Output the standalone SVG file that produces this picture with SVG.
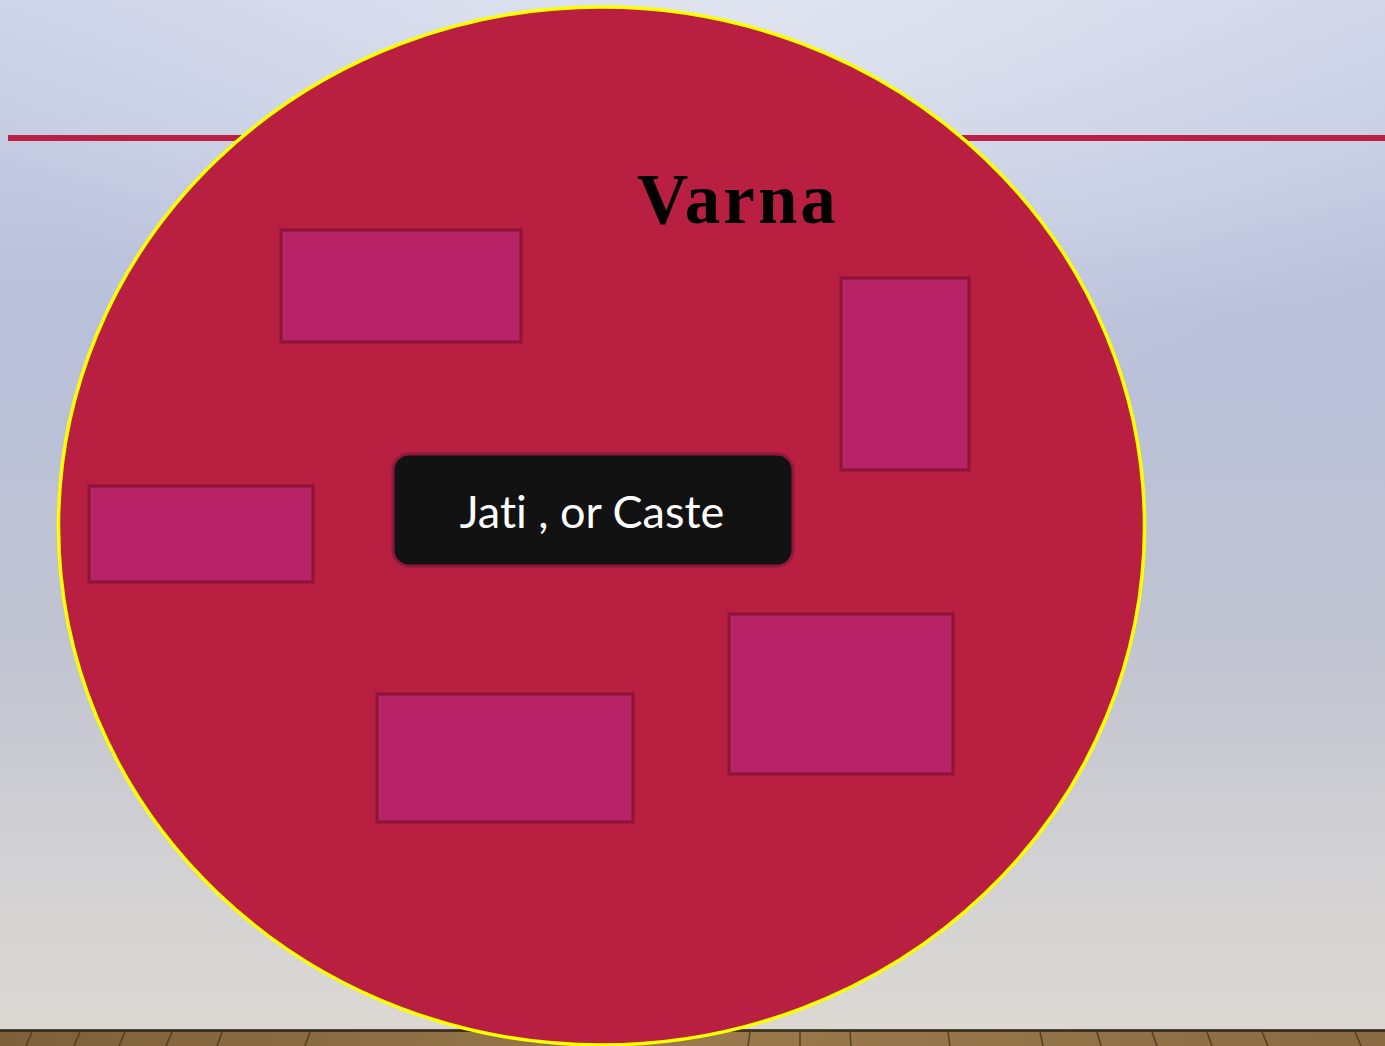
<svg xmlns="http://www.w3.org/2000/svg" width="1385" height="1046" viewBox="0 0 1385 1046">
<defs>
<linearGradient id="bg" x1="0" y1="0" x2="0" y2="1">
<stop offset="0" stop-color="#cdd4e8"/>
<stop offset="0.3" stop-color="#b8c0da"/>
<stop offset="0.6" stop-color="#c0c3d1"/>
<stop offset="0.88" stop-color="#d6d4d3"/>
<stop offset="1" stop-color="#dcd9d4"/>
</linearGradient>
<radialGradient id="glow" cx="0.55" cy="0" r="0.6">
<stop offset="0" stop-color="#e8ebf3" stop-opacity="0.7"/>
<stop offset="1" stop-color="#e8ebf3" stop-opacity="0"/>
</radialGradient>
<linearGradient id="floor" x1="0" y1="0" x2="1" y2="0">
<stop offset="0" stop-color="#7d5f3a"/>
<stop offset="0.5" stop-color="#9a7a4c"/>
<stop offset="1" stop-color="#8a6a42"/>
</linearGradient>
<style>
.sub{fill:#b82266;stroke:#8c1537;stroke-width:3}
.plank{stroke:#4a3218;stroke-width:1.5;opacity:0.8}
</style>
</defs>
<rect x="0" y="0" width="1385" height="1046" fill="url(#bg)"/>
<rect x="0" y="0" width="1385" height="700" fill="url(#glow)"/>
<rect x="0" y="1030" width="1385" height="16" fill="url(#floor)"/>
<rect x="0" y="1029" width="1385" height="3" fill="#2e2014" opacity="0.8"/>
<g class="plank">
<line x1="32" y1="1032" x2="26" y2="1046"/>
<line x1="80" y1="1032" x2="74" y2="1046"/>
<line x1="125" y1="1032" x2="119" y2="1046"/>
<line x1="172" y1="1032" x2="166" y2="1046"/>
<line x1="222" y1="1032" x2="217" y2="1046"/>
<line x1="310" y1="1032" x2="305" y2="1046"/>
<line x1="750" y1="1032" x2="748" y2="1046"/>
<line x1="800" y1="1032" x2="800" y2="1046"/>
<line x1="850" y1="1032" x2="851" y2="1046"/>
<line x1="948" y1="1032" x2="950" y2="1046"/>
<line x1="1040" y1="1032" x2="1043" y2="1046"/>
<line x1="1097" y1="1032" x2="1101" y2="1046"/>
<line x1="1152" y1="1032" x2="1157" y2="1046"/>
<line x1="1207" y1="1032" x2="1212" y2="1046"/>
<line x1="1262" y1="1032" x2="1268" y2="1046"/>
<line x1="1355" y1="1032" x2="1361" y2="1046"/>
</g>
<rect x="8" y="135" width="1377" height="6" fill="#bc1f45"/>
<g id="varna">
<ellipse cx="601.5" cy="526" rx="543" ry="519" fill="#b81f40" stroke="#ffff00" stroke-width="3.5"/>
<text x="738" y="223" text-anchor="middle" font-family="Liberation Serif, serif" font-weight="bold" font-size="71" letter-spacing="3" fill="#000">Varna</text>
</g>
<g id="jati1"><rect class="sub" x="281" y="230" width="240" height="112"/></g>
<g id="jati2"><rect class="sub" x="841" y="278" width="128" height="192"/></g>
<g id="jati3"><rect class="sub" x="89" y="486" width="224" height="96"/></g>
<g id="jati4"><rect class="sub" x="377" y="694" width="256" height="128"/></g>
<g id="jati5"><rect class="sub" x="729" y="614" width="224" height="160"/></g>
<g id="jati-caste">
<rect x="393" y="454" width="400" height="112" rx="16" fill="#121212" stroke="#8c1a3a" stroke-width="3"/>
<text x="592" y="528" text-anchor="middle" font-family="Lato, sans-serif" font-size="45" style="font-variant-ligatures:none" fill="#fff">Jati , or Caste</text>
</g>
<g id="connectors"/>
</svg>
